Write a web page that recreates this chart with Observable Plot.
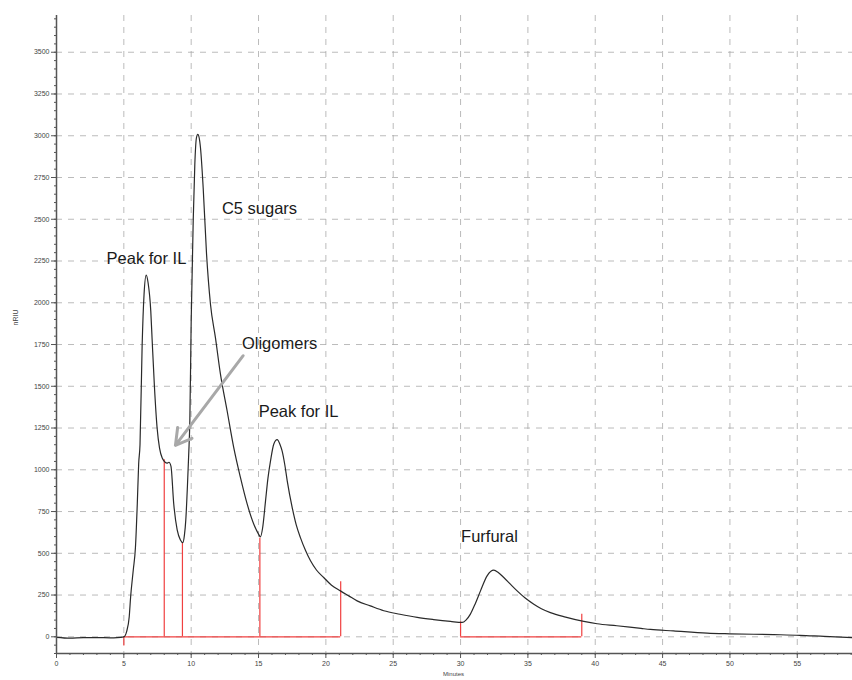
<!DOCTYPE html>
<html>
<head>
<meta charset="utf-8">
<script src="https://cdn.jsdelivr.net/npm/d3@7"></script>
<script src="https://cdn.jsdelivr.net/npm/@observablehq/plot@0.6"></script>
<style>
  body { margin: 0; background: #fff; }
  svg { font-family: "Liberation Sans", Arial, sans-serif; }
</style>
</head>
<body>
<div id="chart"></div>
<script>
// Retention time (minutes)
const times = [0,1,2,3,4,4.5,5.0,5.2,5.4,5.5,5.7,5.86,6.0,6.1,6.2,6.36,6.5,6.66,6.8,7.0,7.1,7.27,7.47,7.65,7.85,8.0,8.2,8.35,8.5,8.7,8.96,9.2,9.38,9.5,9.6,9.72,9.82,9.9,10.0,10.15,10.27,10.39,10.49,10.6,10.69,10.89,11.14,11.43,11.8,12.17,12.67,13.16,13.66,14.16,14.65,15.0,15.14,15.3,15.52,15.7,15.89,16.13,16.38,16.6,16.75,16.95,17.13,17.5,17.8,18.11,18.5,18.86,19.3,19.84,20.4,21.08,21.7,22.32,23.3,24.3,25.5,26.78,28.0,29.25,30.12,30.4,30.73,31.1,31.48,31.97,32.47,32.8,33.21,33.7,34.2,34.8,35.44,36.0,36.67,37.8,39.15,40.14,41.6,43.4,44.1,45.8,48.3,50.0,53.25,55.2,57,59.1];
// Detector signal (nRIU)
const signal = [-3,-8,-5,-5,-6,-5,0,30,120,235,400,533,800,1035,1150,1750,2050,2166,2120,1950,1780,1500,1250,1130,1070,1050,1040,1045,1020,800,640,580,564,610,700,900,1100,1293,1891,2490,2830,2988,3008,2985,2928,2689,2292,1993,1791,1574,1352,1133,953,794,674,615,598,650,814,950,1053,1153,1180,1150,1113,1030,934,774,670,594,515,455,400,355,310,275,245,215,185,156,135,116,103,92,86,100,136,200,275,365,399,385,355,315,275,232,195,168,145,118,92,78,66,50,44,35,22,18,13,9,2,-5];

// Integration markers (red)
const markerTimes = [8.0, 9.35, 15.1, 21.1, 30.0, 39.0];
const markerHeights = [1060, 560, 590, 330, 90, 135];
const baselineStarts = [5.0, 30.0];
const baselineEnds = [21.1, 39.0];

// Annotations
const labelTexts = ["Peak for IL", "C5 sugars", "Oligomers", "Peak for IL", "Furfural"];
const labelX = [6.68, 15.07, 16.56, 17.97, 32.15];
const labelY = [2264, 2564, 1755, 1348, 600];
const arrowFrom = [13.86, 1683];
const arrowTo = [8.83, 1146];

// Ticks
const xTicks = d3.range(0, 56, 5);
const xMinor = d3.range(0, 60, 1);
const yTicks = d3.range(0, 3501, 250);
const yMinor = d3.range(-100, 3701, 50);

const trace = times.map((t, i) => ({t, v: signal[i]}));
const markers = markerTimes.map((t, i) => ({t, h: markerHeights[i]}));
const baselines = baselineStarts.map((s, i) => ({s, e: baselineEnds[i]}));
const labels = labelTexts.map((text, i) => ({text, x: labelX[i], y: labelY[i]}));
const arrows = [{x1: arrowFrom[0], y1: arrowFrom[1], x2: arrowTo[0], y2: arrowTo[1]}];

const chart = Plot.plot({
  width: 852,
  height: 680,
  marginLeft: 56,
  marginRight: 0,
  marginTop: 15,
  marginBottom: 27,
  x: {domain: [0, 59.1], axis: null},
  y: {domain: [-100, 3720], axis: null},
  style: {fontFamily: "Liberation Sans, Arial, sans-serif", color: "#444"},
  marks: [
    Plot.gridY(yTicks, {stroke: "#aaa", strokeOpacity: 0.8, strokeDasharray: "6,6"}),
    Plot.gridX(xTicks.filter(d => d > 0), {stroke: "#aaa", strokeOpacity: 0.8, strokeDasharray: "6,6"}),
    // red integration baselines and markers
    Plot.ruleY(baselines, {y: 0, x1: "s", x2: "e", stroke: "#f04040", strokeWidth: 1.2}),
    Plot.ruleX(markers, {x: "t", y1: 0, y2: "h", stroke: "#f04040", strokeWidth: 1.2}),
    Plot.ruleX([5.0], {y1: 0, y2: -55, stroke: "#f04040", strokeWidth: 1.2}),
    // chromatogram trace
    Plot.line(trace, {x: "t", y: "v", stroke: "#2a2a2a", strokeWidth: 1.2, curve: "monotone-x"}),
    // axes
    Plot.axisY(yMinor, {tickSize: 2, text: null, stroke: "#555"}),
    Plot.axisY(yTicks, {tickSize: 5, tickPadding: 2, fontSize: 7, label: null, tickFormat: d => String(d), stroke: "#555", fill: "#444"}),
    Plot.axisX(xMinor, {tickSize: 2, text: null, stroke: "#555"}),
    Plot.axisX(xTicks, {tickSize: 5, tickPadding: 3, fontSize: 7, label: null, tickFormat: d => String(d), stroke: "#555", fill: "#444"}),
    Plot.ruleX([0], {y1: -100, y2: 3720, stroke: "#555", strokeWidth: 1.5}),
    Plot.ruleY([-100], {x1: 0, x2: 59.1, stroke: "#555", strokeWidth: 1.5}),
    // annotations
    Plot.arrow(arrows, {x1: "x1", y1: "y1", x2: "x2", y2: "y2", stroke: "#a8a8a8", strokeWidth: 3, headLength: 9}),
    Plot.text(labels, {x: "x", y: "y", text: "text", fontSize: 16.5, fill: "#1a1a1a"}),
    // axis titles
    Plot.text(["nRIU"], {frameAnchor: "left", dx: -41, dy: -9, rotate: -90, fontSize: 7, fill: "#444"}),
    Plot.text(["Minutes"], {frameAnchor: "bottom", dx: -1, dy: 22, fontSize: 6, fill: "#444"})
  ]
});
document.getElementById("chart").appendChild(chart);
</script>
</body>
</html>
